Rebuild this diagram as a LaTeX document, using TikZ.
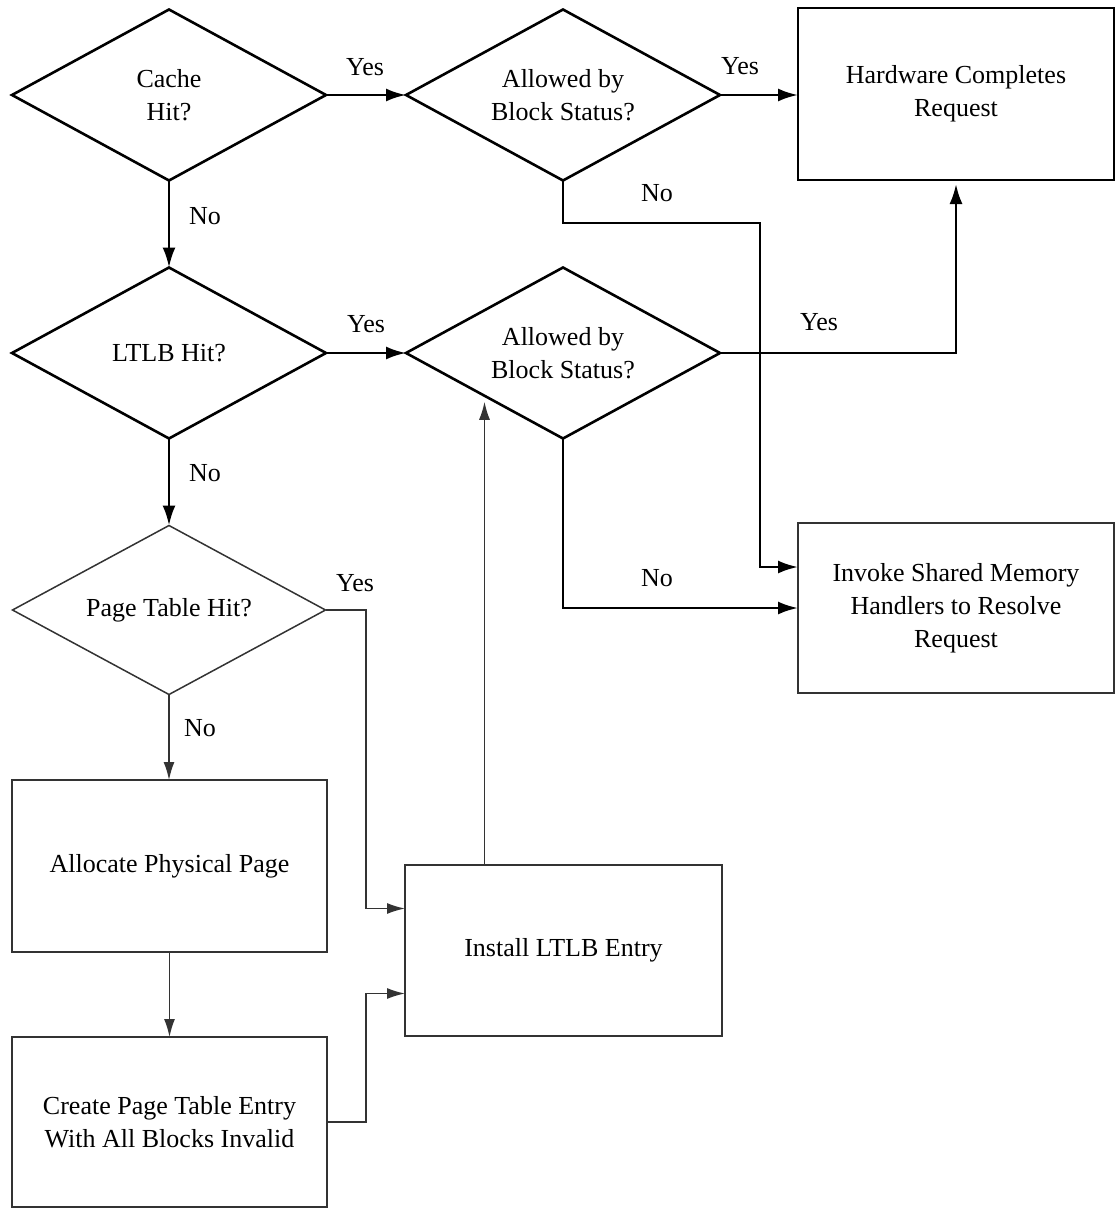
\documentclass[tikz,border=0pt]{standalone}
\usepackage{fontspec}
\setmainfont{Liberation Serif}
\usetikzlibrary{shapes.geometric,arrows.meta}
\begin{document}
\begin{tikzpicture}[x=1pt,y=-1pt,
  font=\fontsize{26}{33}\selectfont,
  heavy/.style={line width=2.6pt, draw=black},
  light/.style={line width=1.5pt, draw=black!80},
  decision/.style={diamond, aspect=1.85, inner sep=0pt, outer sep=0pt, align=center,
    minimum width=314pt, minimum height=171pt},
  action/.style={rectangle, inner sep=0pt, outer sep=0pt, align=center},
  flow/.style={-{Latex[length=20pt,width=13pt]}, heavy},
  thinflow/.style={-{Latex[length=18pt,width=11pt]}, light},
  lbl/.style={inner sep=0pt}
]
\useasboundingbox (0,0) rectangle (1118,1209);

% decisions and actions
\node[decision, heavy] (d1) at (169,95) {Cache\\Hit?};
\node[decision, heavy] (d2) at (563,95) {Allowed by\\Block Status?};
\node[action, heavy, minimum width=316pt, minimum height=172pt] (hw) at (956,94)
  {Hardware Completes\\Request};
\node[decision, heavy] (d3) at (169,353) {LTLB Hit?};
\node[decision, heavy] (d5) at (563,353) {Allowed by\\Block Status?};
\node[decision, light, minimum width=313pt, minimum height=169pt] (d4) at (169,610)
  {Page Table Hit?};
\node[action, light, minimum width=316pt, minimum height=170pt] (inv) at (956,608)
  {Invoke Shared Memory\\Handlers to Resolve\\Request};
\node[action, light, minimum width=315pt, minimum height=172pt] (alloc) at (169.5,866)
  {Allocate Physical Page};
\node[action, light, minimum width=315pt, minimum height=170pt] (create) at (169.5,1122)
  {Create Page Table Entry\\With All Blocks Invalid};
\node[action, light, minimum width=317pt, minimum height=171pt] (inst) at (563.5,950.5)
  {Install LTLB Entry};

% bend points
\coordinate (nobus) at (760,223);
\coordinate (pbus) at (366,0);

% connectors
\draw[flow] (d1.east) -- (d2.west);
\draw[flow] (d2.east) -- (d2.east -| hw.west);
\draw[flow] (d1.south) -- (d3.north);
\draw[flow] (d2.south) |- (nobus) |- ([yshift=41pt]inv.west);
\draw[flow] (d3.east) -- (d5.west);
\draw[flow, shorten >=4pt] (d5.east) -| (hw.south);
\draw[flow] (d5.south) |- (inv.west);
\draw[flow] (d3.south) -- (d4.north);
\draw[thinflow] (d4.east) -- (d4.east -| pbus) |- ([yshift=42pt]inst.west);
\draw[thinflow] (d4.south) -- (d4.south |- alloc.north);
\draw[thinflow] (alloc.south) -- (create.north);
\draw[thinflow] (create.east) -- (create.east -| pbus) |- ([yshift=-43pt]inst.west);
\draw[thinflow, shorten >=6pt] (inst.north -| d5.south west) -- (d5.south west);

% branch labels
\node[lbl] (y1) at (365,67) {Yes};
\node[lbl] (y2) at (740,66) {Yes};
\node[lbl] (n1) at (205,216) {No};
\node[lbl] (n2) at (657,193) {No};
\node[lbl] (y3) at (366,324) {Yes};
\node[lbl] (y4) at (819,322) {Yes};
\node[lbl] (n3) at (205,473) {No};
\node[lbl] (n4) at (657,578) {No};
\node[lbl] (y5) at (355,583) {Yes};
\node[lbl] (n5) at (200,728) {No};
\end{tikzpicture}
\end{document}
